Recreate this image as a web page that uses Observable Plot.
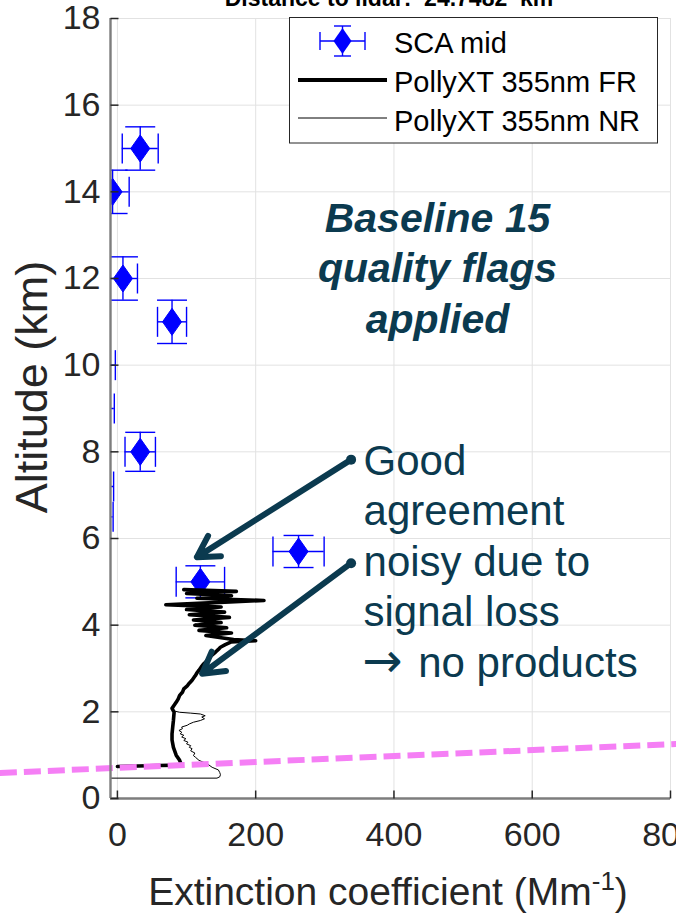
<!DOCTYPE html>
<html>
<head>
<meta charset="utf-8">
<script src="https://cdn.jsdelivr.net/npm/d3@7"></script>
<script src="https://cdn.jsdelivr.net/npm/@observablehq/plot@0.6"></script>
<style>
  html, body { margin: 0; padding: 0; background: #fff; overflow: hidden; }
  svg { display: block; }
</style>
</head>
<body>
<div id="chart"></div>
<script>
// SCA mid retrievals: altitude (km), extinction (Mm-1) and uncertainties
const scaAlt    = [15.0, 14.0, 12.0, 11.0, 10.0, 9.0, 8.0, 7.2, 6.5, 5.7, 5.0];
const scaExt    = [33, -7, 8, 79, -35, -36, 33, -37, -38, 262, 120];
const scaExtErr = [26, 24, 21, 21, 32, 31.5, 22, 31.5, 31.8, 37, 35];
const scaAltErr = [0.5, 0.5, 0.5, 0.5, 0.5, 0.5, 0.45, 0.5, 0.5, 0.37, 0.37];

// PollyXT 355 nm far-range extinction profile
const frAlt = [0.74, 0.76, 0.77, 0.80, 0.88, 1.00, 1.18, 1.35, 1.49, 1.65, 1.80, 1.99, 2.08, 2.15, 2.22, 2.30,
               2.38, 2.45, 2.53, 2.60, 2.66, 2.73, 2.80, 2.84, 2.90, 2.96, 3.03, 3.11, 3.17, 3.23, 3.30, 3.38,
               3.44, 3.49, 3.55, 3.61, 3.64, 3.67, 3.71, 3.76, 3.82, 3.88, 3.94, 4.00, 4.06, 4.12, 4.18, 4.24,
               4.30, 4.36, 4.42, 4.47, 4.52, 4.57, 4.62, 4.68, 4.73, 4.78, 4.82];
const frExt = [0, 60, 89, 92, 90, 85, 81, 79, 79, 80, 81, 82, 79, 82, 85, 88,
               90, 94, 96, 101, 104, 108, 111, 113, 115, 118, 121, 125, 129, 132, 136, 142,
               146, 149, 156, 164, 200, 168, 150, 128, 165, 118, 158, 112, 150, 110, 162, 104,
               155, 100, 150, 70, 140, 212, 115, 165, 100, 172, 96];

// PollyXT 355 nm near-range extinction profile
const nrAlt = [0.47, 0.47, 0.50, 0.55, 0.60, 0.66, 0.72, 0.80, 0.88, 0.95, 0.99, 1.05, 1.10, 1.15, 1.18, 1.22,
               1.26, 1.30, 1.34, 1.38, 1.42, 1.46, 1.49, 1.53, 1.57, 1.61, 1.65, 1.69, 1.72, 1.76, 1.80, 1.84,
               1.88, 1.91, 1.95, 1.97, 1.99, 2.02];
const nrExt = [-10, 144, 148, 149, 148, 146, 137, 130, 118, 113, 110, 112, 106, 108, 104, 106,
               100, 102, 96, 99, 93, 96, 91, 93, 89, 94, 93, 101, 104, 110, 120, 126,
               122, 127, 120, 106, 90, 82];

// dashed magenta reference line (extends past the left axis)
const refExt = [-170, 810];
const refAlt = [0.59, 1.26];

// callout arrows: start (dot) and tip
const calloutFromExt = [338, 338];
const calloutFromAlt = [7.82, 5.43];
const calloutToExt   = [115, 122.6];
const calloutToAlt   = [5.57, 2.88];

const xTicks = [0, 200, 400, 600, 800];
const yTicks = [0, 2, 4, 6, 8, 10, 12, 14, 16, 18];

const legendNames = ["SCA mid", "PollyXT 355nm FR", "PollyXT 355nm NR"];
const titleText = "Distance to lidar: \u00a024.7482 \u00a0km";
const noteBaseline = "Baseline 15\nquality flags\napplied";
const noteCallout = "Good\nagreement\nnoisy due to\nsignal loss";
const noteTail = "no products";
const noteArrow = "\u2192";

const sca = scaAlt.map((alt, i) => ({alt, x: scaExt[i], xe: scaExtErr[i], ye: scaAltErr[i]}));
const fr = frAlt.map((alt, i) => ({alt, x: frExt[i]}));
const nr = nrAlt.map((alt, i) => ({alt, x: nrExt[i]}));
const ref = refAlt.map((alt, i) => ({alt, x: refExt[i]}));
const callouts = calloutFromExt.map((x1, i) => ({x1, y1: calloutFromAlt[i], x2: calloutToExt[i], y2: calloutToAlt[i]}));

// custom symbols: a tall diamond, error-bar caps and inward ticks
const radius = (size) => Math.sqrt(size / Math.PI);
const tallDiamond = {draw(ctx, size) { const r = radius(size);
  ctx.moveTo(0, -1.35 * r); ctx.lineTo(0.95 * r, 0); ctx.lineTo(0, 1.35 * r); ctx.lineTo(-0.95 * r, 0); ctx.closePath(); }};
const vBar = {draw(ctx, size) { const r = radius(size); ctx.moveTo(0, -r); ctx.lineTo(0, r); }};
const hBar = {draw(ctx, size) { const r = radius(size); ctx.moveTo(-r, 0); ctx.lineTo(r, 0); }};
const tickRight = {draw(ctx, size) { const r = radius(size); ctx.moveTo(0, 0); ctx.lineTo(r, 0); }};
const tickUp = {draw(ctx, size) { const r = radius(size); ctx.moveTo(0, 0); ctx.lineTo(0, -r); }};

const blue = "#0000ff";
const ink = "#0b3a4f";
const axisInk = "#262626";
const font = "Liberation Sans, Arial, Helvetica, sans-serif";

// the last callout line sits at this altitude (its baseline)
const tailAlt = 2.81;

const plot = Plot.plot({
  width: 676,
  height: 914,
  marginLeft: 110,
  marginRight: 6,
  marginTop: 18,
  marginBottom: 116,
  style: {fontFamily: font, background: "#fff", overflow: "visible"},
  x: {domain: [-10, 800], label: null},
  y: {domain: [0, 18], label: null},
  marks: [
    Plot.gridX({ticks: xTicks, stroke: "#e2e2e2", strokeOpacity: 1, strokeWidth: 1}),
    Plot.gridY({ticks: yTicks, stroke: "#e2e2e2", strokeOpacity: 1, strokeWidth: 1}),

    // SCA error bars, caps and markers
    Plot.ruleY(sca, {y: "alt", x1: d => d.x - d.xe, x2: d => d.x + d.xe, stroke: blue, strokeWidth: 1.4, clip: true}),
    Plot.ruleX(sca, {x: "x", y1: d => d.alt - d.ye, y2: d => d.alt + d.ye, stroke: blue, strokeWidth: 1.4, clip: true}),
    Plot.dot(sca, {x: d => d.x - d.xe, y: "alt", symbol: vBar, r: 15, stroke: blue, strokeWidth: 1.4, fill: "none", clip: true}),
    Plot.dot(sca, {x: d => d.x + d.xe, y: "alt", symbol: vBar, r: 15, stroke: blue, strokeWidth: 1.4, fill: "none", clip: true}),
    Plot.dot(sca, {x: "x", y: d => d.alt - d.ye, symbol: hBar, r: 15, stroke: blue, strokeWidth: 1.4, fill: "none", clip: true}),
    Plot.dot(sca, {x: "x", y: d => d.alt + d.ye, symbol: hBar, r: 15, stroke: blue, strokeWidth: 1.4, fill: "none", clip: true}),
    Plot.dot(sca, {x: "x", y: "alt", symbol: tallDiamond, r: 10, fill: blue, stroke: blue, strokeWidth: 1, clip: true}),

    // lidar profiles
    Plot.line(fr, {x: "x", y: "alt", stroke: "#000", strokeWidth: 3.6, curve: "linear", strokeLinejoin: "round", clip: true}),
    Plot.line(nr, {x: "x", y: "alt", stroke: "#000", strokeWidth: 1, curve: "linear", clip: true}),

    // dashed reference line
    Plot.line(ref, {x: "x", y: "alt", stroke: "#f57ff5", strokeWidth: 6, strokeDasharray: "17,7", strokeLinecap: "butt"}),

    // axes: lines, inward ticks and labels
    Plot.ruleX([-10], {stroke: "#7d7d7d", strokeWidth: 2.4}),
    Plot.ruleY([0], {stroke: "#7d7d7d", strokeWidth: 2.4}),
    Plot.dot(yTicks, {y: d => d, frameAnchor: "left", symbol: tickRight, r: 8, stroke: axisInk, strokeWidth: 1.5, fill: "none"}),
    Plot.dot(xTicks, {x: d => d, frameAnchor: "bottom", symbol: tickUp, r: 8, stroke: axisInk, strokeWidth: 1.5, fill: "none"}),
    Plot.axisY({ticks: yTicks, tickSize: 0, tickPadding: 10, fontSize: 34, fill: axisInk, label: null, tickFormat: d => String(d)}),
    Plot.axisX({ticks: xTicks, tickSize: 0, tickPadding: 23, fontSize: 34, fill: axisInk, label: null, tickFormat: d => String(d)}),

    // annotations
    Plot.text([noteBaseline], {x: 463, y: 13.9, text: d => d, fontSize: 41, fontWeight: "bold", fontStyle: "italic",
      fill: ink, textAnchor: "middle", lineAnchor: "top", lineHeight: 1.23}),
    Plot.text([noteCallout], {x: 356, y: 8.29, text: d => d, fontSize: 42, fill: ink, textAnchor: "start",
      lineAnchor: "top", lineHeight: 1.2}),
    Plot.text([noteTail], {x: 435, y: tailAlt, text: d => d, fontSize: 42, fill: ink, textAnchor: "start", lineAnchor: "bottom"}),
    Plot.text([noteArrow], {x: 354, y: tailAlt, text: d => d, fontSize: 48, fill: ink, textAnchor: "start", lineAnchor: "bottom",
      fontFamily: "DejaVu Sans"}),
    Plot.arrow(callouts, {x1: "x1", y1: "y1", x2: "x2", y2: "y2", stroke: ink, strokeWidth: 6, headLength: 6, headAngle: 60}),
    Plot.dot(callouts, {x: "x1", y: "y1", r: 5, fill: ink, stroke: "none"})
  ]
});

document.getElementById("chart").appendChild(plot);
const svg = d3.select(plot);

// title, partly cut off by the top edge
svg.append("text")
  .attr("x", 389).attr("y", 6)
  .attr("text-anchor", "middle")
  .attr("font-family", font).attr("font-size", 23).attr("font-weight", "bold")
  .attr("fill", "#000")
  .text(titleText);

// axis titles
const xl = svg.append("text")
  .attr("x", 388).attr("y", 905)
  .attr("text-anchor", "middle")
  .attr("font-family", font).attr("font-size", 39).attr("fill", axisInk);
xl.append("tspan").text("Extinction coefficient (Mm");
xl.append("tspan").attr("font-size", 26).attr("dy", -15).text("-1");
xl.append("tspan").attr("dy", 15).text(")");

svg.append("text")
  .attr("transform", "translate(47,387) rotate(-90)")
  .attr("text-anchor", "middle")
  .attr("font-family", font).attr("font-size", 45).attr("fill", axisInk)
  .text("Altitude (km)");

// legend box
const lg = svg.append("g").attr("font-family", font).attr("font-size", 29).attr("fill", "#000")
  .attr("text-anchor", "start");
lg.append("rect").attr("x", 289.5).attr("y", 17.5).attr("width", 368).attr("height", 125.5)
  .attr("fill", "#fff").attr("stroke", axisInk).attr("stroke-width", 1);
// SCA marker with error bars
const m = lg.append("g").attr("stroke", blue).attr("stroke-width", 1.4).attr("fill", "none");
m.append("line").attr("x1", 320).attr("x2", 365).attr("y1", 41).attr("y2", 41);
m.append("line").attr("x1", 320).attr("x2", 320).attr("y1", 32).attr("y2", 50);
m.append("line").attr("x1", 365).attr("x2", 365).attr("y1", 32).attr("y2", 50);
m.append("line").attr("x1", 342.5).attr("x2", 342.5).attr("y1", 26).attr("y2", 56);
m.append("line").attr("x1", 334).attr("x2", 351).attr("y1", 26).attr("y2", 26);
m.append("line").attr("x1", 334).attr("x2", 351).attr("y1", 56).attr("y2", 56);
lg.append("path").attr("d", "M342.5,28 L351.5,41 L342.5,54 L333.5,41 Z").attr("fill", blue);
// profile line samples
lg.append("line").attr("x1", 298).attr("x2", 387).attr("y1", 80).attr("y2", 80).attr("stroke", "#000").attr("stroke-width", 4);
lg.append("line").attr("x1", 298).attr("x2", 387).attr("y1", 118).attr("y2", 118).attr("stroke", "#000").attr("stroke-width", 1);
const legendBaselines = [53, 92, 131];
legendNames.forEach((name, i) => {
  lg.append("text").attr("x", 394).attr("y", legendBaselines[i]).text(name);
});
</script>
</body>
</html>
